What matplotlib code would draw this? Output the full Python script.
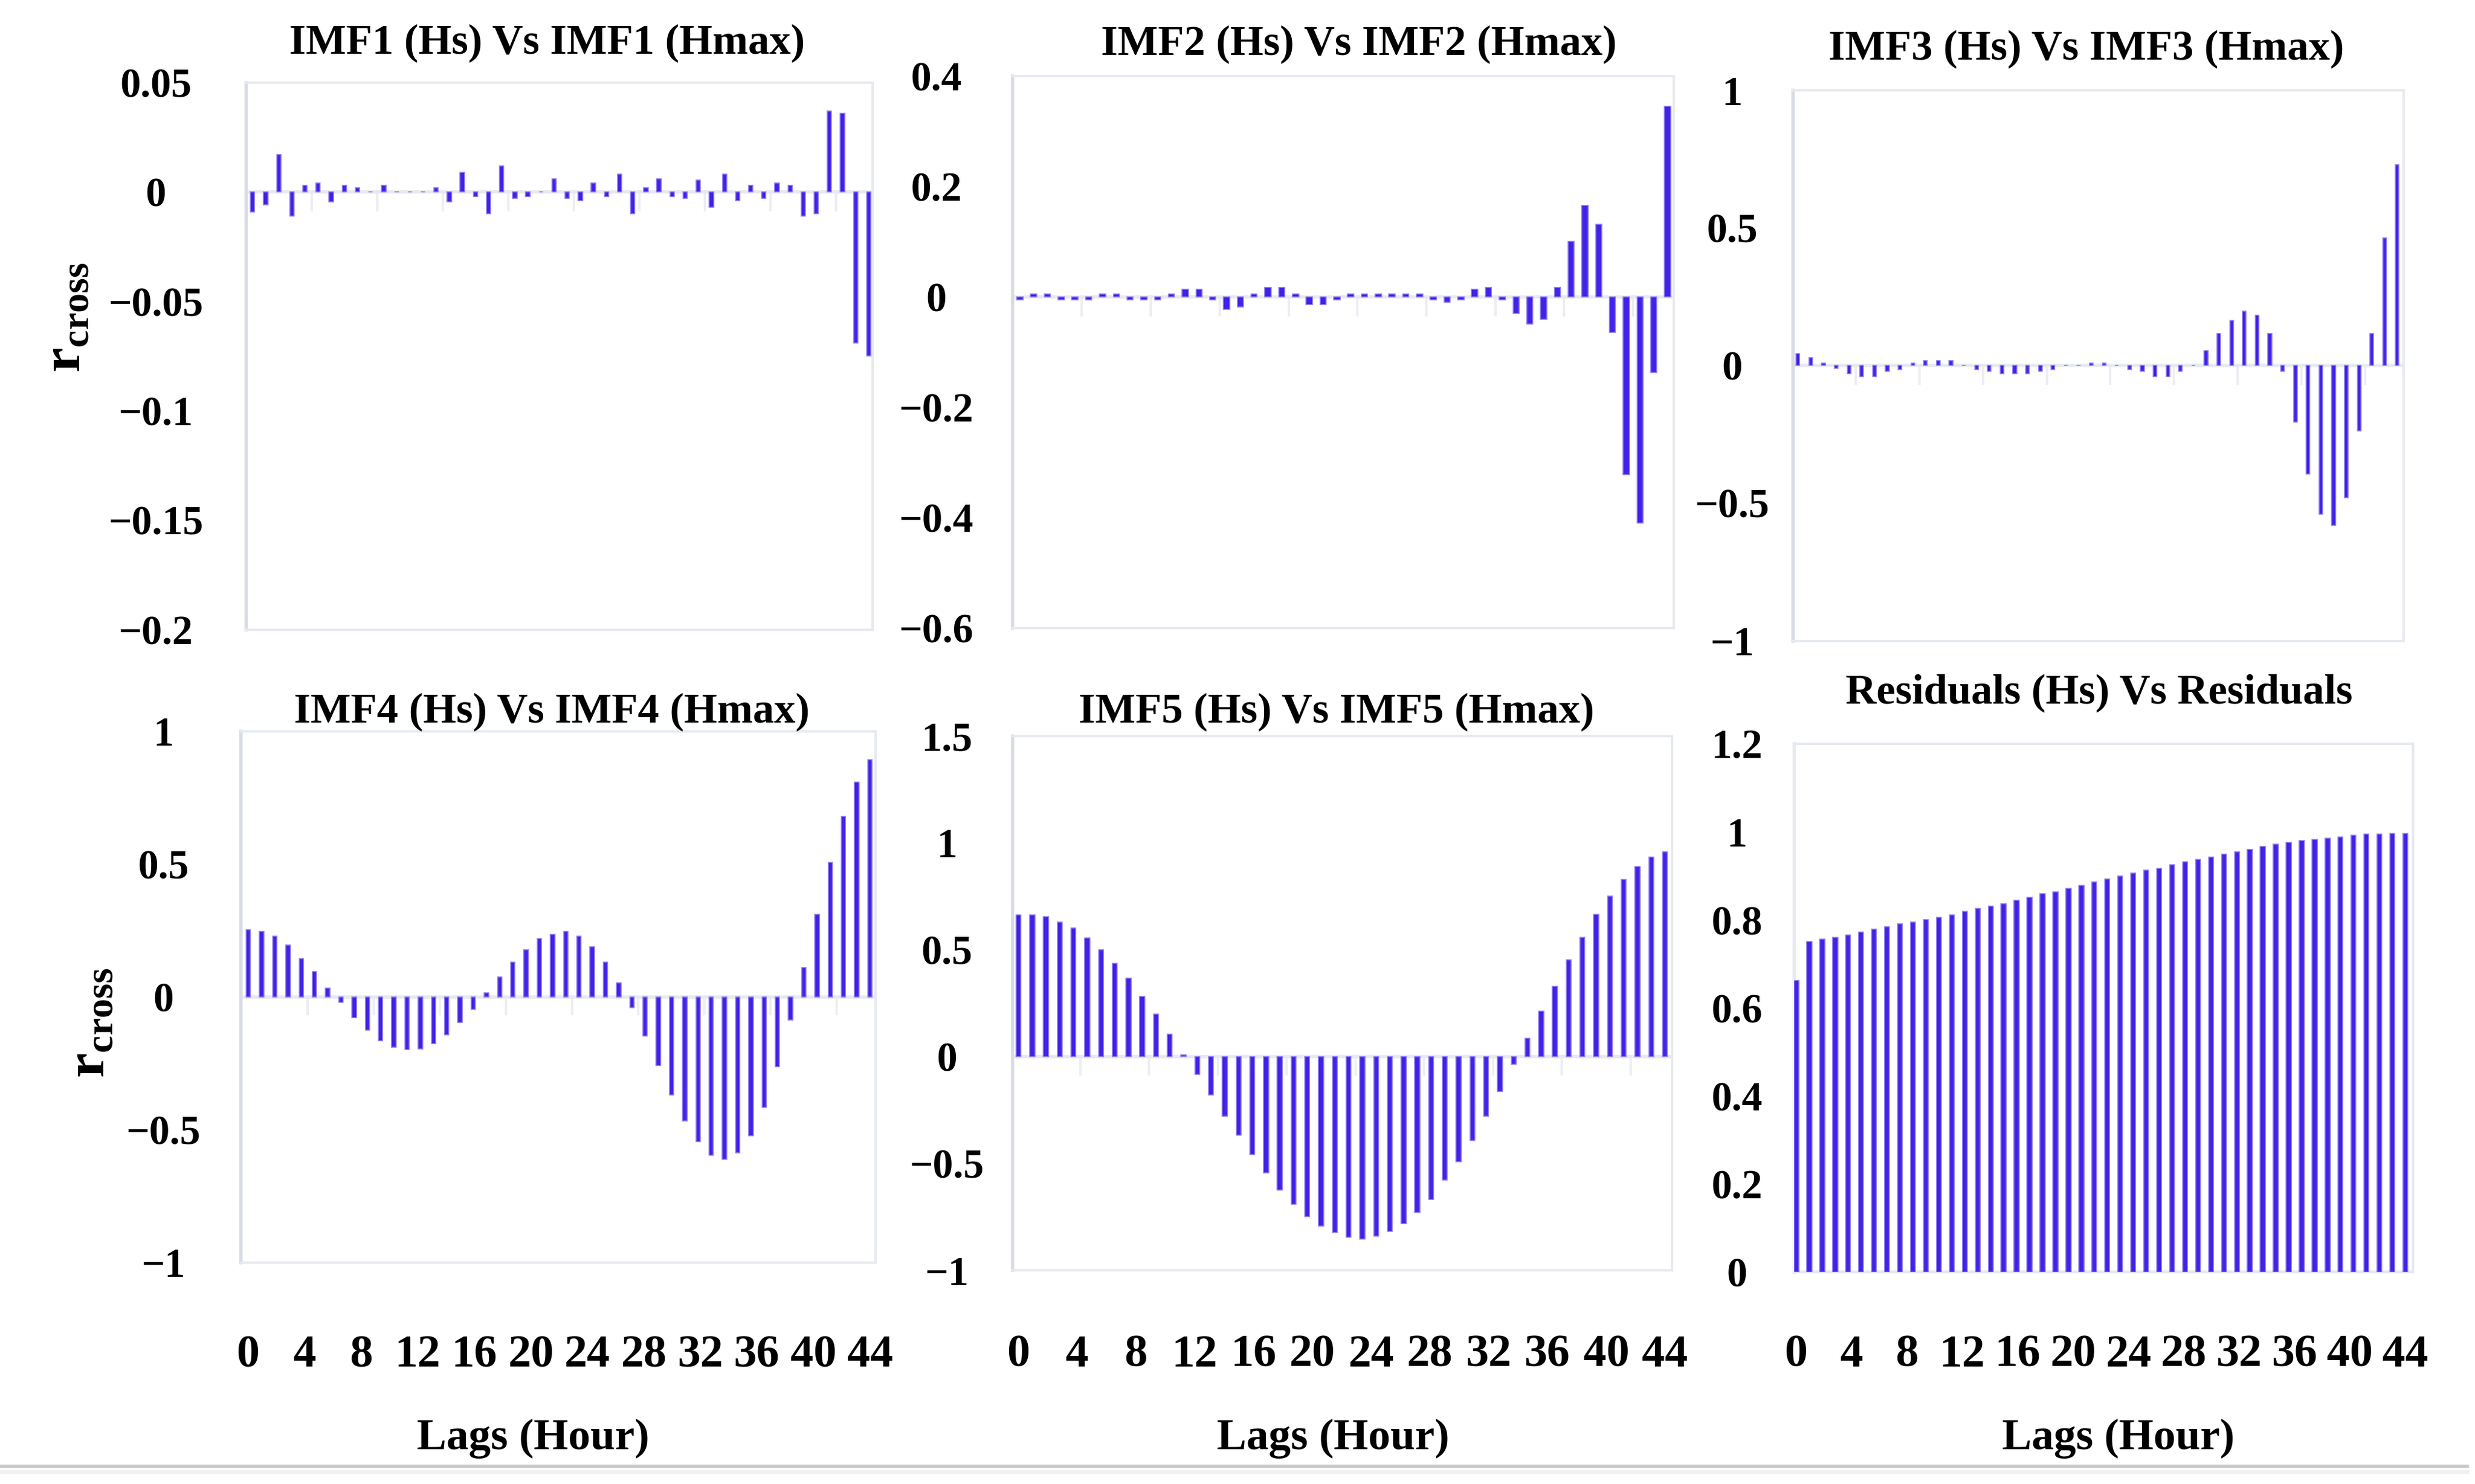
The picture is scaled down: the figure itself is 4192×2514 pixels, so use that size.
import numpy as np
import matplotlib
matplotlib.use('Agg')
import matplotlib.pyplot as plt
import matplotlib.transforms as mtransforms

plt.rcParams['font.family'] = ['Liberation Serif', 'DejaVu Serif']
plt.rcParams['mathtext.fontset'] = 'custom'
plt.rcParams['mathtext.rm'] = 'Liberation Serif'
plt.rcParams['mathtext.bf'] = 'Liberation Serif:bold'

# cross-correlation values, lags 0..47
lags = np.arange(48)
imf1 = [-0.009, -0.006, 0.017, -0.011, 0.003, 0.004, -0.0045, 0.003, 0.002, 0.0,
        0.003, 0.0, 0.0, 0.0, 0.002, -0.0045, 0.009, -0.002, -0.010, 0.012,
        -0.003, -0.002, 0.0, 0.006, -0.003, -0.004, 0.004, -0.002, 0.008, -0.010,
        0.002, 0.006, -0.002, -0.003, 0.0055, -0.007, 0.008, -0.004, 0.003, -0.003,
        0.004, 0.003, -0.011, -0.010, 0.037, 0.036, -0.069, -0.075]
imf2 = [-0.005, 0.005, 0.005, -0.005, -0.005, -0.005, 0.005, 0.005, -0.005, -0.005,
        -0.005, 0.0055, 0.014, 0.014, -0.005, -0.022, -0.018, 0.0055, 0.017, 0.017,
        0.005, -0.014, -0.014, -0.005, 0.005, 0.005, 0.005, 0.005, 0.005, 0.005,
        -0.005, -0.01, -0.005, 0.014, 0.017, -0.005, -0.03, -0.049, -0.041, 0.017,
        0.101, 0.166, 0.132, -0.064, -0.322, -0.41, -0.137, 0.345]
imf3 = [0.044, 0.028, 0.01, -0.011, -0.03, -0.041, -0.041, -0.02, -0.014, 0.01,
        0.017, 0.017, 0.017, 0.0, -0.014, -0.02, -0.03, -0.03, -0.03, -0.02,
        -0.014, 0.0, 0.0, 0.01, 0.01, 0.0, -0.014, -0.02, -0.041, -0.041,
        -0.02, 0.0, 0.055, 0.116, 0.163, 0.199, 0.183, 0.116, -0.02, -0.205,
        -0.394, -0.539, -0.581, -0.479, -0.238, 0.116, 0.463, 0.73]
imf4 = [0.252, 0.245, 0.228, 0.195, 0.145, 0.095, 0.033, -0.021, -0.078, -0.125,
        -0.164, -0.189, -0.199, -0.197, -0.175, -0.142, -0.097, -0.047, 0.014, 0.074,
        0.131, 0.178, 0.219, 0.236, 0.245, 0.228, 0.188, 0.131, 0.053, -0.04,
        -0.147, -0.259, -0.37, -0.466, -0.545, -0.595, -0.612, -0.588, -0.523, -0.416,
        -0.263, -0.088, 0.11, 0.31, 0.506, 0.679, 0.809, 0.893]
imf5 = [0.663, 0.663, 0.655, 0.63, 0.602, 0.554, 0.501, 0.435, 0.366, 0.281,
        0.2, 0.106, 0.009, -0.083, -0.18, -0.278, -0.366, -0.458, -0.543, -0.623,
        -0.69, -0.747, -0.791, -0.823, -0.844, -0.853, -0.84, -0.817, -0.782, -0.729,
        -0.667, -0.578, -0.49, -0.393, -0.278, -0.163, -0.035, 0.085, 0.214, 0.329,
        0.453, 0.557, 0.665, 0.752, 0.828, 0.888, 0.934, 0.957]
resid = [0.662, 0.751, 0.756, 0.761, 0.766, 0.772, 0.779, 0.784, 0.791, 0.795,
         0.801, 0.806, 0.812, 0.82, 0.826, 0.832, 0.837, 0.845, 0.851, 0.86,
         0.864, 0.872, 0.878, 0.886, 0.893, 0.9, 0.907, 0.913, 0.918, 0.926,
         0.932, 0.938, 0.943, 0.949, 0.955, 0.96, 0.967, 0.972, 0.976, 0.981,
         0.983, 0.986, 0.989, 0.992, 0.995, 0.995, 0.997, 0.997]

titles = ['IMF1 (Hs) Vs IMF1 (Hmax)', 'IMF2 (Hs) Vs IMF2 (Hmax)', 'IMF3 (Hs) Vs IMF3 (Hmax)',
          'IMF4 (Hs) Vs IMF4 (Hmax)', 'IMF5 (Hs) Vs IMF5 (Hmax)', 'Residuals (Hs) Vs Residuals']
yticks = [[0.05, 0, -0.05, -0.1, -0.15, -0.2],
          [0.4, 0.2, 0, -0.2, -0.4, -0.6],
          [1, 0.5, 0, -0.5, -1],
          [1, 0.5, 0, -0.5, -1],
          [1.5, 1, 0.5, 0, -0.5, -1],
          [1.2, 1, 0.8, 0.6, 0.4, 0.2, 0]]
xtick_labels = [str(v) for v in range(0, 45, 4)]
series = [imf1, imf2, imf3, imf4, imf5, resid]

BLUE = '#4122E8'
FRAME = '#E6E9EF'

fig = plt.figure(figsize=(41.92, 25.14), dpi=100)

# layout (fig fractions): [left, bottom, width, height], ylim, xlim, bar width, tick pads (pt), title pos
panels = [
    dict(rect=[0.0994, 0.5757, 0.2532, 0.3687], ylim=(-0.2, 0.05), xlim=(-0.5, 47.3), bw=0.33, pad=110, xpad=0, tpos=(0.221, 0.971)),
    dict(rect=[0.4090, 0.5767, 0.2673, 0.3720], ylim=(-0.6, 0.4), xlim=(-0.55, 47.45), bw=0.45, pad=93, xpad=0, tpos=(0.549, 0.970)),
    dict(rect=[0.7244, 0.5682, 0.2468, 0.3709], ylim=(-1, 1), xlim=(-0.4, 47.5), bw=0.28, pad=74, xpad=0, tpos=(0.843, 0.967)),
    dict(rect=[0.0974, 0.1492, 0.2564, 0.3581], ylim=(-1, 1), xlim=(-0.55, 47.43), bw=0.33, pad=95, xpad=88, tpos=(0.223, 0.520)),
    dict(rect=[0.4090, 0.1439, 0.2666, 0.3602], ylim=(-1, 1.5), xlim=(-0.45, 47.52), bw=0.36, pad=80, xpad=78, tpos=(0.540, 0.520)),
    dict(rect=[0.7250, 0.1428, 0.2500, 0.3559], ylim=(0, 1.2), xlim=(-0.15, 47.6), bw=0.38, pad=70, xpad=76, tpos=(0.848, 0.533)),
]

def fmt(v):
    s = ('%g' % v)
    return s.replace('-', '\u2212')

for i, (p, vals) in enumerate(zip(panels, series)):
    ax = fig.add_axes(p['rect'])
    ax.bar(lags, vals, width=p['bw'], color=BLUE, edgecolor='#8C7CF2', linewidth=1.2, zorder=3)
    ax.axhline(0, color=FRAME, lw=4, zorder=2)
    ax.set_ylim(*p['ylim'])
    ax.set_xlim(*p['xlim'])
    for side in ['top', 'right', 'bottom']:
        ax.spines[side].set_color(FRAME)
        ax.spines[side].set_linewidth(3)
    ax.spines['left'].set_color('#D6DBE4')
    ax.spines['left'].set_linewidth(4)
    if i == 5:
        ax.spines['left'].set_color(FRAME)

    # faint category tick marks on the zero line
    y0 = (0 - p['ylim'][0]) / (p['ylim'][1] - p['ylim'][0])
    trans = mtransforms.blended_transform_factory(ax.transData, ax.transAxes)
    ax.vlines(np.arange(4.5, 47, 5), y0 - 0.035, y0, transform=trans, color='#ECEEF3', lw=3, zorder=1)

    ax.set_yticks(yticks[i])
    ax.set_yticklabels([fmt(v) for v in yticks[i]])
    ax.tick_params(axis='y', length=0, pad=p['pad'], labelsize=50)
    for lab in ax.get_yticklabels():
        lab.set_fontweight('bold')
        lab.set_horizontalalignment('center')

    if i >= 3:
        ax.set_xticks(np.linspace(0, 47, 12))
        ax.set_xticklabels(xtick_labels, fontsize=56, fontweight='bold')
        ax.tick_params(axis='x', length=0, pad=p['xpad'])
    else:
        ax.set_xticks([])

    fig.text(p['tpos'][0], p['tpos'][1], titles[i], ha='center', va='center',
             fontsize=52, fontweight='bold')

# axis titles
for x in [0.2154, 0.5385, 0.8558]:
    fig.text(x, 0.0306, 'Lags (Hour)', ha='center', va='center', fontsize=54, fontweight='bold')
for x, y in [(0.0269, 0.786), (0.0365, 0.3106)]:
    fig.text(x, y, r'$\mathbf{r}_{\mathbf{cross}}$', ha='center', va='center',
             rotation=90, fontsize=68)

# thin rule at the bottom of the page
fig.add_artist(plt.Line2D([0, 0.997], [0.012, 0.012], color='#C8C8C8', lw=4))
fig.add_artist(plt.Line2D([0, 0.997], [0.0085, 0.0085], color='#F1F1F1', lw=5))

fig.savefig('out.png', dpi=100, facecolor='white')
